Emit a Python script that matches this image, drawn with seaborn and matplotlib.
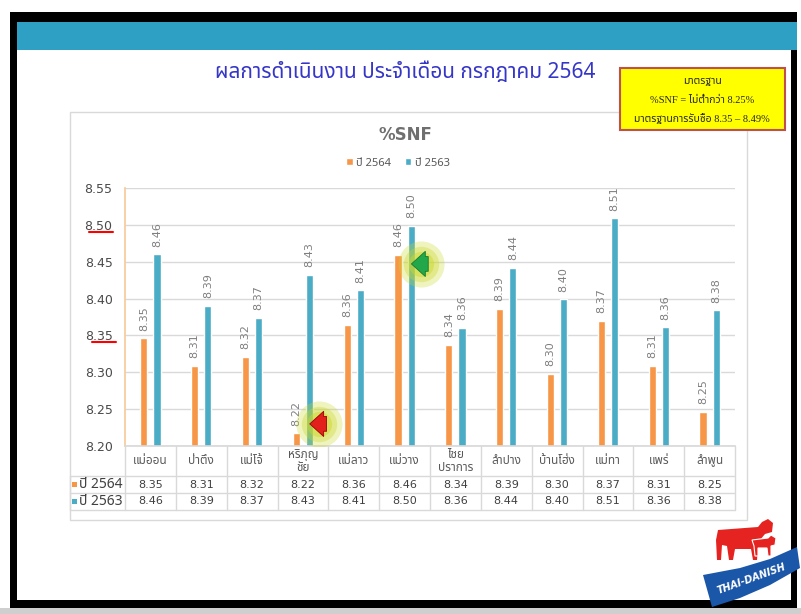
# %%
import numpy as np
import matplotlib.pyplot as plt
import pandas as pd
import seaborn as sns
from matplotlib.patches import Rectangle, Polygon
from matplotlib.transforms import blended_transform_factory, offset_copy

# %%
categories = ['แม่ออน', 'ป่าตึง', 'แม่โจ้', 'หริภุญชัย', 'แม่ลาว', 'แม่วาง',
              'ไชยปราการ', 'ลำปาง', 'บ้านโฮ่ง', 'แม่ทา', 'แพร่', 'ลำพูน']
table_names = ['แม่ออน', 'ป่าตึง', 'แม่โจ้', 'หริภุญ\nชัย', 'แม่ลาว', 'แม่วาง',
               'ไชย\nปราการ', 'ลำปาง', 'บ้านโฮ่ง', 'แม่ทา', 'แพร่', 'ลำพูน']
snf_2564 = [8.346, 8.309, 8.321, 8.217, 8.364, 8.459, 8.337, 8.386, 8.298, 8.370, 8.309, 8.246]
snf_2563 = [8.460, 8.390, 8.374, 8.432, 8.411, 8.499, 8.360, 8.442, 8.399, 8.509, 8.361, 8.384]
series = ['ปี 2564', 'ปี 2563']
colors = ['#F79646', '#4BACC6']
y_ticks = [8.20, 8.25, 8.30, 8.35, 8.40, 8.45, 8.50, 8.55]
underlined = [8.50, 8.35]

title = 'ผลการดำเนินงาน ประจำเดือน กรกฎาคม 2564'
std_lines = ['มาตรฐาน', '%SNF = ไม่ต่ำกว่า 8.25%', 'มาตรฐานการรับซื้อ 8.35 – 8.49%']

# %%
sns.set_theme(style='white')
thai = ['Noto Sans Thai', 'Noto Sans Thai Looped', 'Noto Sans', 'DejaVu Sans']
plt.rcParams['font.family'] = thai

W, H = 801, 614
fig = plt.figure(figsize=(W / 100, H / 100), dpi=100)

# slide background in pixel coords
bg = fig.add_axes([0, 0, 1, 1], zorder=0)
bg.set_xlim(0, W)
bg.set_ylim(H, 0)
bg.axis('off')
bg.add_patch(Rectangle((0, 608), W, 6, fc='#cfcfcf', ec='none'))
bg.add_patch(Rectangle((10, 12), 787, 596, fc='black', ec='none'))
bg.add_patch(Rectangle((17, 22), 774, 578, fc='white', ec='none'))
bg.add_patch(Rectangle((17, 22), 780, 28, fc='#2DA0C3', ec='none'))
bg.text(405, 72, title, color='#3535C8', fontsize=15, ha='center', va='center')

# chart frame
bg.add_patch(Rectangle((70, 112), 677, 408, fc='white', ec='#d9d9d9', lw=1))
bg.text(405, 135, '%SNF', fontsize=12, color='#6f6f6f', weight='bold',
        ha='center', va='center', family='DejaVu Sans')

# standard box
bg.add_patch(Rectangle((620, 68), 165, 62, fc='#FFFF00', ec='#C0504D', lw=1.5, zorder=5))
for i, line in enumerate(std_lines):
    bg.text(702, 81 + 19 * i, line, fontsize=7.5, ha='center', va='center', zorder=6,
            family=['Liberation Serif'] + thai)

# %%
# main bar chart
AX_L, AX_R, AX_T, AX_B = 125, 735, 188, 446
ax = fig.add_axes([AX_L / W, 1 - AX_B / H, (AX_R - AX_L) / W, (AX_B - AX_T) / H], zorder=2)
ax.patch.set_alpha(0)

df = pd.DataFrame({
    'category': categories * 2,
    'series': [series[0]] * len(categories) + [series[1]] * len(categories),
    'value': snf_2564 + snf_2563,
})
sns.barplot(data=df, x='category', y='value', hue='series', palette=colors,
            width=0.52, gap=0.45, ax=ax, legend=False, saturation=1)

for cont, vals in zip(ax.containers, [snf_2564, snf_2563]):
    ax.bar_label(cont, labels=[f'{v:.2f}' for v in vals], rotation=90, padding=5.5,
                 fontsize=8, color='#7f7f7f', family='DejaVu Sans')

ax.set_ylim(8.20, 8.55)
ax.set_xlim(-0.5, len(categories) - 0.5)
ax.set_yticks(y_ticks)
ax.set_yticklabels([f'{t:.2f}' for t in y_ticks], family='DejaVu Sans')
ax.tick_params(axis='y', length=0, pad=9, labelsize=9, labelcolor='#4a4a4a')
ax.tick_params(axis='x', length=0, labelbottom=False)
ax.set_xlabel('')
ax.set_ylabel('')
ax.yaxis.grid(True, color='#d9d9d9', lw=1)
ax.set_axisbelow(True)
for s in ['top', 'right']:
    ax.spines[s].set_visible(False)
ax.spines['bottom'].set_color('#d9d9d9')
ax.spines['left'].set_color('#F9CB9C')

# red underlines under some tick labels
ty = offset_copy(blended_transform_factory(bg.transData, ax.transData), fig, y=-7, units='dots')
for t, x0 in zip(underlined, [89, 92]):
    bg.plot([x0, x0 + 24], [t, t], color='red', lw=1.5, transform=ty, zorder=3)

# highlight arrows
for xc, yc, fc, ec in [(3, 8.230, '#E3211C', '#9B0000'), (5, 8.447, '#22A84A', '#157A30')]:
    for s, a in [(1100, 0.3), (650, 0.35), (330, 0.45)]:
        ax.scatter([xc + 0.32], [yc], s=s, color='#CBD82A', alpha=a, lw=0, zorder=4)
    ax.annotate('', xy=(xc + 0.08, yc), xytext=(xc + 0.52, yc), zorder=5,
                arrowprops=dict(arrowstyle='simple,head_length=0.8,head_width=1.45,tail_width=0.85',
                                mutation_scale=12.5, fc=fc, ec=ec, lw=0.6))

# legend
handles = [Rectangle((0, 0), 1, 1, fc=c) for c in colors]
fig.legend(handles, series, loc='center', bbox_to_anchor=(398 / W, 1 - 163 / H), ncol=2,
           frameon=False, handlelength=0.6, handleheight=0.6, fontsize=8,
           labelcolor='#595959', columnspacing=1.2, handletextpad=0.3)

# %%
# data table under the chart
tr = blended_transform_factory(ax.transData, bg.transData)
grid_c = '#d9d9d9'
row_y = [446, 476, 493, 510]
for yy in row_y[1:]:
    bg.plot([70, AX_R], [yy, yy], color=grid_c, lw=1)
bg.plot([70, 70], [476, 510], color=grid_c, lw=1)
for i in range(len(categories) + 1):
    bg.plot([i - 0.5, i - 0.5], [446, 510], color=grid_c, lw=1, transform=tr)

for i, name in enumerate(table_names):
    bg.text(i, 461, name, transform=tr, ha='center', va='center', fontsize=8.5,
            color='#595959', linespacing=0.95)
for vals, yy in [(snf_2564, 484.5), (snf_2563, 501.5)]:
    for i, v in enumerate(vals):
        bg.text(i, yy, f'{v:.2f}', transform=tr, ha='center', va='center',
                fontsize=8, color='#404040', family='DejaVu Sans')
for lab, c, yy in zip(series, colors, [484.5, 501.5]):
    bg.add_patch(Rectangle((72, yy - 3), 5, 5, fc=c, ec='none'))
    bg.text(79, yy, lab, ha='left', va='center', fontsize=10, color='#404040')

# %%
# logo
cow = [(718, 530), (758, 527), (762, 522), (768, 519), (773, 523), (772, 532), (765, 534),
       (760, 540), (758, 548), (757, 560), (753, 560), (751, 549), (735, 549), (733, 560),
       (729, 560), (727, 546), (722, 545), (721, 560), (717, 560), (716, 540)]
calf = [(752, 540), (768, 538), (771, 535), (776, 538), (775, 545), (771, 546), (771, 556),
        (768, 556), (767, 548), (758, 548), (758, 556), (755, 556), (754, 546)]
bg.add_patch(Polygon(cow, closed=True, fc='#E52421', ec='none'))
bg.add_patch(Polygon(calf, closed=True, fc='#E52421', ec='white', lw=0.8))
banner = [(703, 575), (740, 568), (770, 559), (797, 547), (800, 568), (770, 585), (740, 598), (712, 607)]
bg.add_patch(Polygon(banner, closed=True, fc='#1B57A8', ec='none'))
bg.text(752, 579, 'THAI-DANISH', color='white', fontsize=7, style='italic', weight='bold',
        rotation=20, ha='center', va='center', family='DejaVu Sans')

plt.savefig('out.png', dpi=100)
